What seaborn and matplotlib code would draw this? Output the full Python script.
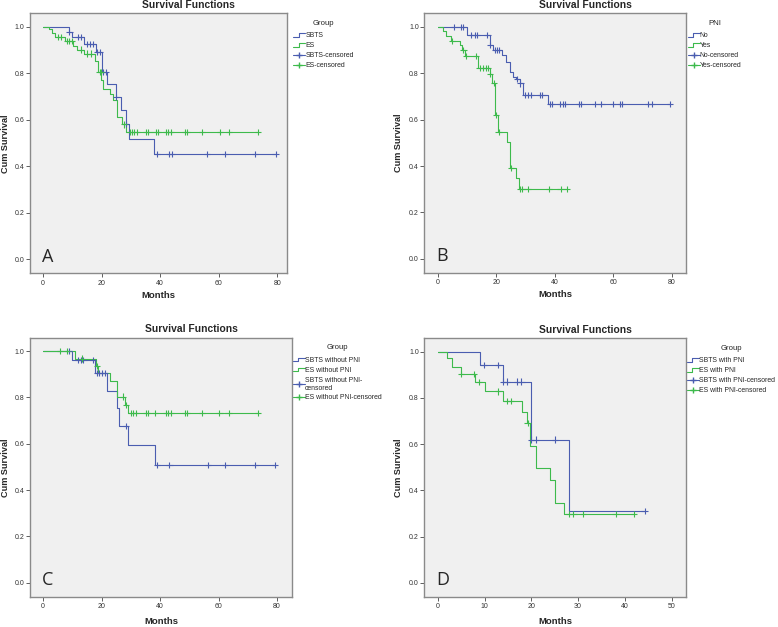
import numpy as np
import pandas as pd
import seaborn as sns
import matplotlib as mpl
import matplotlib.pyplot as plt
from matplotlib.lines import Line2D
from matplotlib.legend_handler import HandlerBase

mpl.use('Agg')

# ---- data (event times, survival after each event, censor times) ----
# A: SBTS vs ES
a_sbts_t = [9, 10, 14, 18, 20, 22, 25, 26.7, 28.3, 29.2, 38]
a_sbts_s = [0.978, 0.955, 0.927, 0.890, 0.806, 0.753, 0.699, 0.641, 0.582, 0.518, 0.452]
a_sbts_c = [9, 12, 13, 15, 16, 17, 18.4, 19.3, 20.6, 21.4, 25, 28.3, 39, 43, 44, 56, 62, 72.5, 79.4]
a_es_t = [2, 3, 4.2, 7.5, 10.4, 11.5, 14, 17.8, 18.7, 19.9, 20.6, 23, 24, 25.2, 26.9, 28.4]
a_es_s = [0.989, 0.972, 0.957, 0.938, 0.918, 0.902, 0.885, 0.854, 0.806, 0.771, 0.732, 0.71,
          0.687, 0.61, 0.58, 0.548]
a_es_c = [5.2, 6, 8.3, 9, 9.8, 12.9, 15, 16.3, 19.3, 19.7, 27.6, 29.6, 30.4, 31.2, 32, 35.2, 36,
          38.4, 39.3, 42, 42.8, 43.7, 48.4, 49.2, 54.3, 60.4, 63.5, 73.4]

# B: PNI No vs Yes
b_no_t = [10, 18, 19, 22, 23.5, 24.8, 25.7, 26.7, 28, 29, 37.8]
b_no_s = [0.964, 0.921, 0.900, 0.878, 0.850, 0.806, 0.785, 0.774, 0.756, 0.706, 0.667]
b_no_c = [5.6, 7.8, 8.7, 11.5, 12.6, 13.4, 17, 18, 19.5, 20.3, 21, 27.2, 28.3, 29.8, 30.9, 32,
          34.9, 35.8, 38.5, 39.2, 41.9, 42.9, 43.6, 48.3, 49.1, 53.9, 56, 60, 62.3, 63.1, 72,
          73.1, 79.3]
b_yes_t = [1.7, 3, 4.4, 7.5, 8.3, 9.2, 13.8, 17.8, 18.7, 19.7, 20.6, 23.8, 24.6, 26.9, 27.7]
b_yes_s = [0.981, 0.960, 0.940, 0.921, 0.900, 0.874, 0.824, 0.796, 0.759, 0.620, 0.548, 0.505,
           0.390, 0.347, 0.300]
b_yes_c = [4.9, 8.8, 9.8, 13, 14.3, 15.5, 16.4, 17.2, 18, 19.2, 20, 20.8, 25, 28.1, 28.9, 30.7,
           38, 42, 44.3]

# C: without PNI
c_sbts_t = [10, 17.8, 22, 25.2, 26.1, 29.2, 38.2]
c_sbts_s = [0.961, 0.904, 0.828, 0.755, 0.677, 0.594, 0.508]
c_sbts_c = [9, 12.1, 12.9, 13.8, 17, 18.4, 19.3, 20.1, 21.2, 28.4, 38.9, 43.2, 56.3, 62.3, 72.5,
            79.4]
c_es_t = [10.9, 18.1, 18.7, 22.9, 25.2, 28, 29.2]
c_es_s = [0.968, 0.935, 0.904, 0.869, 0.804, 0.768, 0.733]
c_es_c = [5.8, 8.1, 13.2, 18.4, 27.2, 28.4, 30.1, 30.9, 31.8, 35.2, 36, 38.3, 41.9, 42.8, 43.6,
          48.5, 49.3, 54.2, 60.3, 63.4, 73.4]

# D: with PNI
d_sbts_t = [9, 14, 20, 28]
d_sbts_s = [0.942, 0.871, 0.620, 0.312]
d_sbts_c = [9.8, 12.9, 14, 14.8, 16.9, 17.9, 20, 20.9, 25, 44.2]
d_es_t = [2, 3, 5, 8, 10, 14, 18, 19, 19.8, 21, 24, 25, 27]
d_es_s = [0.971, 0.934, 0.902, 0.868, 0.828, 0.788, 0.740, 0.692, 0.594, 0.497, 0.447, 0.347,
          0.298]
d_es_c = [5, 7.8, 8.8, 12.9, 14.8, 15.7, 19.2, 28.1, 29, 31, 38, 42]

x_ticks_80 = [0, 20, 40, 60, 80]
x_ticks_50 = [0, 10, 20, 30, 40, 50]
y_ticks = [0.0, 0.2, 0.4, 0.6, 0.8, 1.0]

BLUE = '#4a5db0'
GREEN = '#3dba4c'

sns.set_theme(style='ticks', rc={
  'axes.facecolor': '#f0f0f0',
  'axes.edgecolor': '#8a8a8a',
  'axes.linewidth': 1.0,
  'xtick.color': '#444444',
  'ytick.color': '#444444',
  'xtick.labelcolor': '#333333',
  'ytick.labelcolor': '#333333',
  'xtick.major.size': 3,
  'ytick.major.size': 3,
  'xtick.major.width': 0.6,
  'ytick.major.width': 0.6,
  'xtick.major.pad': 1.5,
  'ytick.major.pad': 1,
  'xtick.labelsize': 5,
  'ytick.labelsize': 5,
})
plt.rcParams['font.family'] = ['Liberation Sans', 'DejaVu Sans']


class StepHandler(HandlerBase):
  # SPSS style step glyph for the survival curve entries
  def create_artists(self, legend, orig_handle, xdescent, ydescent, width, height, fontsize, trans):
    x0 = -xdescent
    x1 = x0 + width
    xm = x0 + 0.45 * width
    y0 = -ydescent + 0.15 * height
    y1 = -ydescent + 0.85 * height
    ln = Line2D([x0, xm, xm, x1], [y0, y0, y1, y1], color=orig_handle.get_color(),
                lw=orig_handle.get_linewidth())
    ln.set_transform(trans)
    return [ln]


def km_frame(times, surv, cens, name):
  t = [0] + list(times) + [max(cens)]
  s = [1.0] + list(surv) + [surv[-1]]
  return pd.DataFrame({'month': t, 'surv': s, 'group': name})


def censor_frame(times, surv, cens, name):
  st_t = np.array([0] + list(times))
  st_s = np.array([1.0] + list(surv))
  idx = np.searchsorted(st_t, np.array(cens), side='right') - 1
  return pd.DataFrame({'month': cens, 'surv': st_s[idx], 'group': name})


def panel(ax, groups, names, legend_title, letter, xlim, xticks, leg_x, xlabel_y, ylabel_x):
  pal = {names[0]: BLUE, names[1]: GREEN}
  curves = pd.concat([km_frame(t, s, c, n) for (t, s, c), n in zip(groups, names)])
  cens = pd.concat([censor_frame(t, s, c, n) for (t, s, c), n in zip(groups, names)])
  sns.lineplot(data=curves, x='month', y='surv', hue='group', palette=pal, estimator=None,
               sort=False, drawstyle='steps-post', linewidth=0.8, legend=False, ax=ax)
  sns.scatterplot(data=cens, x='month', y='surv', hue='group', palette=pal, marker='+', s=20,
                  linewidth=0.8, legend=False, ax=ax, zorder=3)
  ax.set_xlim(*xlim)
  ax.set_ylim(-0.06, 1.058)
  ax.set_xticks(xticks)
  ax.set_yticks(y_ticks)
  ax.set_yticklabels([f'{v:.1f}' for v in y_ticks])
  for sp in ax.spines.values():
    sp.set_visible(True)
  ax.set_xlabel('Months', fontsize=6.8, fontweight='bold')
  ax.set_ylabel('Cum Survival', fontsize=6.6, fontweight='bold')
  ax.xaxis.set_label_coords(0.5, xlabel_y)
  ax.yaxis.set_label_coords(ylabel_x, 0.5)
  ax.text(0.615, 1.032, 'Survival Functions', transform=ax.transAxes, ha='center', va='center',
          fontsize=7.4, fontweight='bold')
  ax.text(0.045, 0.045, letter, transform=ax.transAxes, ha='left', va='baseline', fontsize=13,
          family=['Open Sans', 'DejaVu Sans'])

  handles = [Line2D([], [], color=BLUE, lw=0.8), Line2D([], [], color=GREEN, lw=0.8),
             Line2D([], [], color=BLUE, lw=0.8, marker='+', markersize=5),
             Line2D([], [], color=GREEN, lw=0.8, marker='+', markersize=5)]
  cens_labels = [n + '-censored' for n in names]
  if len(cens_labels[0]) > 22:
    cens_labels[0] = cens_labels[0].replace('PNI-', 'PNI-\n')
  labels = list(names) + cens_labels
  leg = ax.legend(handles, labels, title=legend_title, loc='upper left',
                  bbox_to_anchor=(leg_x, 0.975), frameon=False, fontsize=4.95, title_fontsize=5.6,
                  handlelength=1.75, handletextpad=0.0, labelspacing=0.42, borderpad=0,
                  borderaxespad=0, numpoints=1,
                  handler_map={handles[0]: StepHandler(), handles[1]: StepHandler()})
  leg._legend_box.sep = 4


fig = plt.figure(figsize=(7.78, 6.27), dpi=100)
ax_a = fig.add_axes([0.0386, 0.5641, 0.3307, 0.4147])
ax_b = fig.add_axes([0.5454, 0.5650, 0.3360, 0.4137])
ax_c = fig.add_axes([0.0386, 0.0483, 0.3364, 0.4131])
ax_d = fig.add_axes([0.5454, 0.0483, 0.3360, 0.4121])

panel(ax_a, [(a_sbts_t, a_sbts_s, a_sbts_c), (a_es_t, a_es_s, a_es_c)], ['SBTS', 'ES'],
      'Group', 'A', (-4.44, 83.4), x_ticks_80, 1.023, -0.068, -0.078)
panel(ax_b, [(b_no_t, b_no_s, b_no_c), (b_yes_t, b_yes_s, b_yes_c)], ['No', 'Yes'],
      'PNI', 'B', (-4.58, 84.8), x_ticks_80, 1.008, -0.068, -0.081)
panel(ax_c, [(c_sbts_t, c_sbts_s, c_sbts_c), (c_es_t, c_es_s, c_es_c)],
      ['SBTS without PNI', 'ES without PNI'], 'Group', 'C', (-4.44, 85.0), x_ticks_80, 1.003,
      -0.078, -0.077)
panel(ax_d, [(d_sbts_t, d_sbts_s, d_sbts_c), (d_es_t, d_es_s, d_es_c)],
      ['SBTS with PNI', 'ES with PNI'], 'Group', 'D', (-2.86, 53.0), x_ticks_50, 1.005, -0.078,
      -0.081)

fig.savefig('out.png', dpi=100)
